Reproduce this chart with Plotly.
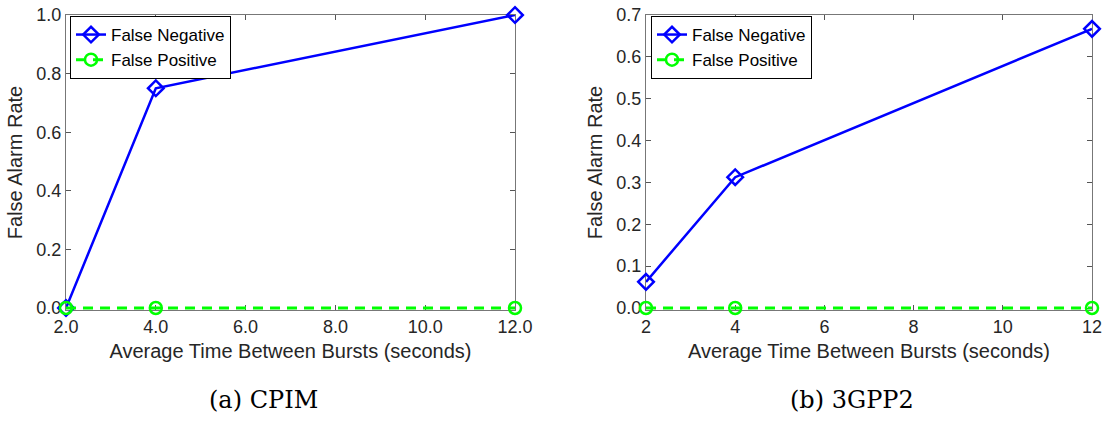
import plotly.graph_objects as go

x_vals = [2, 4, 12]
cpim_fn = [0.0, 0.75, 1.0]
cpim_fp = [0.0, 0.0, 0.0]
gpp_fn = [0.0625, 0.3125, 0.667]
gpp_fp = [0.0, 0.0, 0.0]

left_xticks = [2, 4, 6, 8, 10, 12]
left_xtext = ["2.0", "4.0", "6.0", "8.0", "10.0", "12.0"]
right_xtext = ["2", "4", "6", "8", "10", "12"]
left_yticks = [0, 0.2, 0.4, 0.6, 0.8, 1.0]
left_ytext = ["0.0", "0.2", "0.4", "0.6", "0.8", "1.0"]
right_yticks = [0, 0.1, 0.2, 0.3, 0.4, 0.5, 0.6, 0.7]
right_ytext = ["0.0", "0.1", "0.2", "0.3", "0.4", "0.5", "0.6", "0.7"]

BLUE = "#0000FF"
GREEN = "#00FF00"
FONT = "Liberation Sans"

fig = go.Figure()

def add(xa, ya, fn, fp, legend):
    fig.add_trace(go.Scatter(x=x_vals, y=fn, mode="lines+markers", name="False Negative",
                             line=dict(color=BLUE, width=2.5),
                             marker=dict(symbol="diamond-open", size=12, color=BLUE, line=dict(width=2.5)),
                             xaxis=xa, yaxis=ya, legend=legend, cliponaxis=False))
    fig.add_trace(go.Scatter(x=x_vals, y=fp, mode="lines+markers", name="False Positive",
                             line=dict(color=GREEN, width=3, dash="10px,7px"),
                             marker=dict(symbol="circle-open", size=12, color=GREEN, line=dict(width=2.5)),
                             xaxis=xa, yaxis=ya, legend=legend, cliponaxis=False))

add("x", "y", cpim_fn, cpim_fp, "legend")
add("x2", "y2", gpp_fn, gpp_fp, "legend2")

axis_common = dict(showgrid=False, zeroline=False, showline=True, linecolor="#777777", linewidth=1,
                   mirror="ticks", ticks="inside", ticklen=5, tickcolor="#555555", automargin=False,
                   layer="below traces",
                   tickfont=dict(family=FONT, size=18, color="#262626"))
title_font = dict(family=FONT, size=20, color="#262626")

# plot area: y=0 at pixel 308, top at 15; bottom extended 2px so the zero line is not clipped
ydom = [1 - 310 / 421, 1 - 15 / 421]
left_pad = 1.0 * 2 / 293
right_pad = 0.7 * 2 / 293

fig.update_layout(
    width=1105, height=421, margin=dict(l=0, r=0, t=0, b=0),
    paper_bgcolor="white", plot_bgcolor="white", showlegend=True,
    xaxis=dict(domain=[66 / 1105, 515 / 1105], range=[2, 12], tickvals=left_xticks, ticktext=left_xtext,
               title=dict(text="Average Time Between Bursts (seconds)", font=title_font, standoff=8),
               anchor="y", **axis_common),
    yaxis=dict(domain=ydom, range=[-left_pad, 1.0], tickvals=left_yticks, ticktext=left_ytext,
               title=dict(text="False Alarm Rate", font=title_font, standoff=8),
               anchor="x", **axis_common),
    xaxis2=dict(domain=[646 / 1105, 1092 / 1105], range=[2, 12], tickvals=left_xticks, ticktext=right_xtext,
                title=dict(text="Average Time Between Bursts (seconds)", font=title_font, standoff=8),
                anchor="y2", **axis_common),
    yaxis2=dict(domain=ydom, range=[-right_pad, 0.7], tickvals=right_yticks, ticktext=right_ytext,
                title=dict(text="False Alarm Rate", font=title_font, standoff=8),
                anchor="x2", **axis_common),
    legend=dict(x=70 / 1105, y=1 - 16 / 421, xanchor="left", yanchor="top",
                bgcolor="white", bordercolor="black", borderwidth=1,
                font=dict(family=FONT, size=17, color="black"), tracegroupgap=0, itemwidth=30),
    legend2=dict(x=651 / 1105, y=1 - 16 / 421, xanchor="left", yanchor="top",
                 bgcolor="white", bordercolor="black", borderwidth=1,
                 font=dict(family=FONT, size=17, color="black"), tracegroupgap=0, itemwidth=30),
)

cap_font = dict(family="DejaVu Serif", size=24, color="black")
fig.add_annotation(text="(a) CPIM", x=263 / 1105, y=1 - 400 / 421, xref="paper", yref="paper",
                   showarrow=False, font=cap_font, xanchor="center", yanchor="middle")
fig.add_annotation(text="(b) 3GPP2", x=852 / 1105, y=1 - 400 / 421, xref="paper", yref="paper",
                   showarrow=False, font=cap_font, xanchor="center", yanchor="middle")

fig.write_html("out.html")
